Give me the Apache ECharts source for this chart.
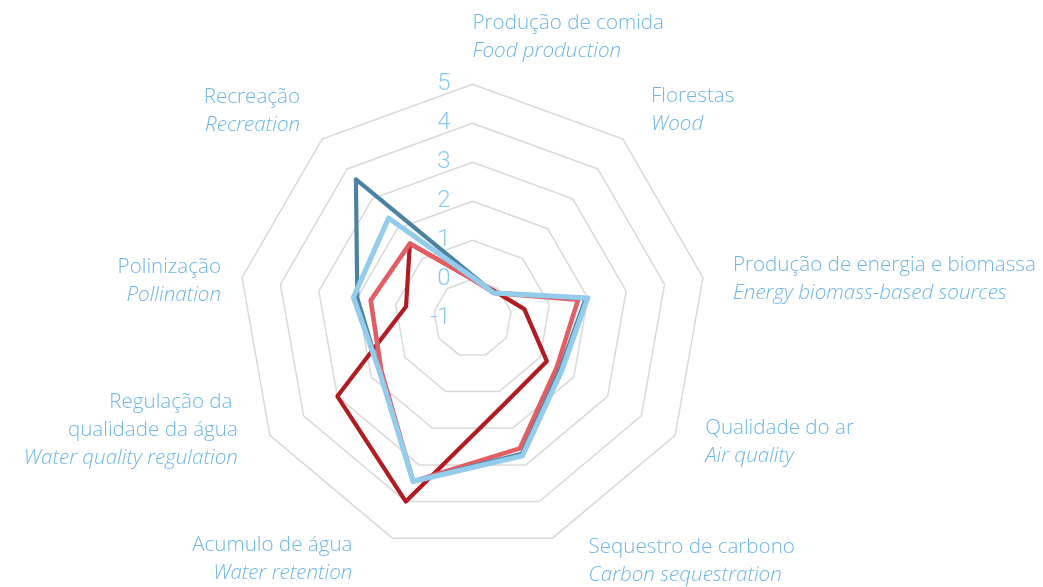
<!DOCTYPE html>
<html><head><meta charset="utf-8">
<script src="https://cdn.jsdelivr.net/npm/echarts@6/dist/echarts.min.js"></script>
<style>html,body{margin:0;padding:0;background:#fff}#c{width:1043px;height:587px}</style>
</head><body><div id="c"></div>
<script>
// Categories, clockwise from the top
const namesPt = ['Produção de comida', 'Florestas', 'Produção de energia e biomassa', 'Qualidade do ar',
  'Sequestro de carbono', 'Acumulo de água', 'Regulação da \nqualidade da água', 'Polinização', 'Recreação'];
const namesEn = ['Food production', 'Wood', 'Energy biomass-based sources', 'Air quality',
  'Carbon sequestration', 'Water retention', 'Water quality regulation', 'Pollination', 'Recreation'];
const tickLabels = ['-1', '0', '1', '2', '3', '4', '5'];
const seriesNames = ['Série 1', 'Série 2', 'Série 3', 'Série 4'];
// Values, same order as categories
const valsDarkRed   = [0.0, -0.1, 0.35, 1.2, 1.35, 4.0, 3.0, 0.73, 1.5];
const valsLightRed  = [0.0, -0.15, 1.75, 1.5, 2.55, 3.45, 1.7, 1.65, 1.5];
const valsDarkBlue  = [0.1, -0.15, 1.95, 1.6, 2.7, 3.45, 1.75, 2.0, 3.65];
const valsLightBlue = [0.05, -0.15, 2.0, 1.65, 2.75, 3.45, 1.75, 2.1, 2.35];

// ECharts places indicators counter-clockwise: reorder
const order = [0, 8, 7, 6, 5, 4, 3, 2, 1];
const minV = Number(tickLabels[0]);
const maxV = Number(tickLabels[tickLabels.length - 1]);

// label placement (style): align, padding [t, r, b, l]
const nameLayout = {
  0: { align: 'left', padding: [0, 0, 95, 0] },
  1: { align: 'left', padding: [0, 0, 57, 28] },
  2: { align: 'left', padding: [2, 0, 0, 30] },
  3: { align: 'left', padding: [14, 0, 0, 30] },
  4: { align: 'left', padding: [45, 0, 0, 36] },
  5: { align: 'right', padding: [41, 40, 0, 0] },
  6: { align: 'right', padding: [0, 32, 11, 0] },
  7: { align: 'right', padding: [7, 21, 0, 0] },
  8: { align: 'right', padding: [0, 22, 55, 0] }
};

const indicators = order.map(function (i, k) {
  const ind = {
    name: namesPt[i], min: minV, max: maxV,
    nameTextStyle: { align: nameLayout[i].align, verticalAlign: 'middle', padding: nameLayout[i].padding }
  };
  if (k === 0) ind.axisLabel = { show: true };
  return ind;
});

const nameColor = '#6db6e6';
const baseFont = { fontFamily: 'Open Sans', fontSize: 20.6, fontWeight: 300, color: nameColor, lineHeight: 28 };

const colors = ['#b31b23', '#e35e64', '#4b81a1', '#94ccec'];
const widths = [4.2, 4.6, 4.2, 5.2];
const allVals = [valsDarkRed, valsLightRed, valsDarkBlue, valsLightBlue];

const chart = echarts.init(document.getElementById('c'));
chart.setOption({
  animation: false,
  backgroundColor: '#ffffff',
  radar: {
    center: [472.5, 318.3],
    radius: 234,
    shape: 'polygon',
    splitNumber: tickLabels.length - 1,
    axisNameGap: 0,
    axisName: {
      color: nameColor,
      formatter: function (name) {
        const i = namesPt.indexOf(name);
        return '{pt|' + namesPt[i] + '}\n{en|' + namesEn[i] + '}';
      },
      rich: {
        pt: Object.assign({}, baseFont, { fontStyle: 'normal' }),
        en: Object.assign({}, baseFont, { fontStyle: 'italic' })
      }
    },
    axisLine: { show: false },
    axisTick: { show: false },
    axisLabel: {
      show: false, margin: 22, color: '#8ccbf0',
      fontFamily: 'Roboto', fontWeight: 300, fontSize: 24
    },
    splitLine: { lineStyle: { color: '#d9d9d9', width: 1.5 } },
    splitArea: { show: false },
    indicator: indicators
  },
  series: [{
    type: 'radar',
    symbol: 'none',
    silent: true,
    data: allVals.map(function (vals, s) {
      return {
        name: seriesNames[s],
        value: order.map(function (i) { return vals[i]; }),
        lineStyle: { color: colors[s], width: widths[s] },
        itemStyle: { color: colors[s] },
        areaStyle: null
      };
    })
  }]
});
</script>
</body></html>
